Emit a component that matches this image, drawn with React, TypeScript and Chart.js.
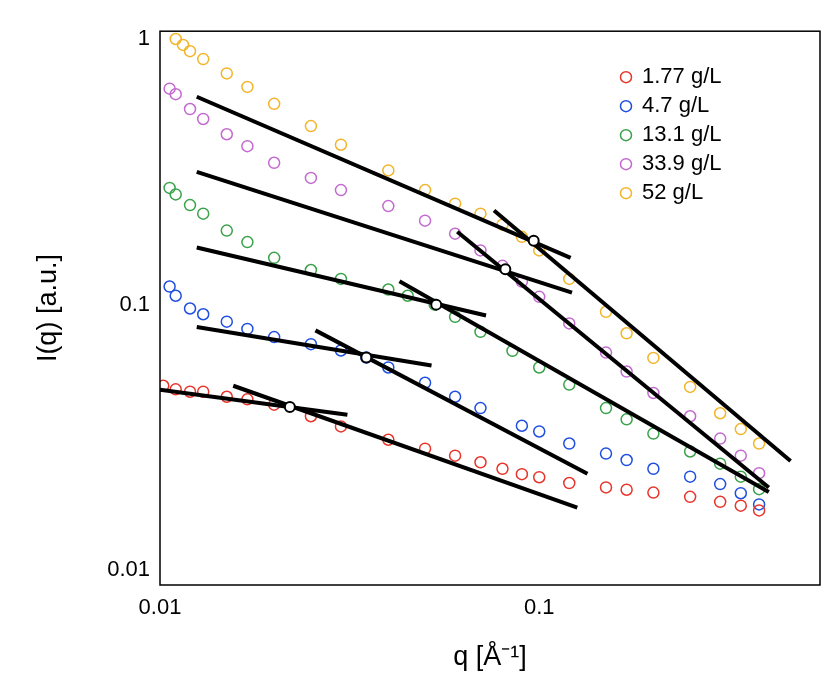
import React, { useEffect, useRef } from "react";
import { Chart, registerables } from "chart.js";
Chart.register(...registerables);

const labels = ["1.77 g/L", "4.7 g/L", "13.1 g/L", "33.9 g/L", "52 g/L"];
const colors = ["#e8342a", "#1f4fe0", "#3aa24a", "#c36ad0", "#f2b52a"];

const qRed = [0.0102, 0.011, 0.012, 0.013, 0.015, 0.017, 0.02, 0.025, 0.03, 0.04, 0.05, 0.06, 0.07, 0.08, 0.09, 0.1, 0.12, 0.15, 0.17, 0.2, 0.25, 0.3, 0.34, 0.38];
const iRed = [0.0495, 0.048, 0.047, 0.047, 0.045, 0.044, 0.042, 0.038, 0.0348, 0.031, 0.0287, 0.027, 0.0255, 0.0241, 0.023, 0.0224, 0.0213, 0.0205, 0.0201, 0.0196, 0.0189, 0.0181, 0.0175, 0.0168];
const qBlue = [0.0106, 0.011, 0.012, 0.013, 0.015, 0.017, 0.02, 0.025, 0.03, 0.035, 0.04, 0.05, 0.06, 0.07, 0.09, 0.1, 0.12, 0.15, 0.17, 0.2, 0.25, 0.3, 0.34, 0.38];
const iBlue = [0.117, 0.108, 0.0967, 0.092, 0.0863, 0.081, 0.0755, 0.071, 0.0672, 0.0632, 0.058, 0.0508, 0.045, 0.0408, 0.035, 0.0333, 0.03, 0.0275, 0.026, 0.0241, 0.0225, 0.0211, 0.0195, 0.0177];
const qGreen = [0.0106, 0.011, 0.012, 0.013, 0.015, 0.017, 0.02, 0.025, 0.03, 0.04, 0.045, 0.053, 0.06, 0.07, 0.085, 0.1, 0.12, 0.15, 0.17, 0.2, 0.25, 0.3, 0.34, 0.38];
const iGreen = [0.275, 0.26, 0.237, 0.22, 0.19, 0.172, 0.15, 0.135, 0.125, 0.114, 0.108, 0.1, 0.09, 0.079, 0.067, 0.058, 0.05, 0.0408, 0.037, 0.0327, 0.028, 0.0252, 0.0225, 0.0202];
const qPurple = [0.0106, 0.011, 0.012, 0.013, 0.015, 0.017, 0.02, 0.025, 0.03, 0.04, 0.05, 0.06, 0.07, 0.08, 0.09, 0.1, 0.12, 0.15, 0.17, 0.2, 0.25, 0.3, 0.34, 0.38];
const iPurple = [0.65, 0.62, 0.545, 0.5, 0.438, 0.395, 0.342, 0.3, 0.27, 0.235, 0.207, 0.185, 0.16, 0.14, 0.122, 0.107, 0.085, 0.066, 0.056, 0.0465, 0.038, 0.0313, 0.027, 0.0232];
const qYellow = [0.011, 0.0115, 0.012, 0.013, 0.015, 0.017, 0.02, 0.025, 0.03, 0.04, 0.05, 0.06, 0.07, 0.08, 0.09, 0.1, 0.12, 0.15, 0.17, 0.2, 0.25, 0.3, 0.34, 0.38];
const iYellow = [1.0, 0.95, 0.9, 0.84, 0.742, 0.66, 0.57, 0.47, 0.4, 0.32, 0.27, 0.24, 0.22, 0.2, 0.18, 0.16, 0.125, 0.094, 0.078, 0.063, 0.049, 0.039, 0.034, 0.03];

// fit lines: [q1, I1, q2, I2]
const fitLines = [
  [0.01, 0.0478, 0.0312, 0.0385], [0.0156, 0.0495, 0.126, 0.0172],
  [0.0125, 0.0824, 0.052, 0.059], [0.0257, 0.08, 0.134, 0.0231],
  [0.0125, 0.164, 0.0724, 0.091], [0.0428, 0.1225, 0.403, 0.0197],
  [0.0125, 0.316, 0.122, 0.111], [0.0608, 0.188, 0.403, 0.0205],
  [0.0125, 0.606, 0.121, 0.15], [0.076, 0.226, 0.46, 0.0258],
];
const crossQ = [0.022, 0.035, 0.0535, 0.0814, 0.0967];
const crossI = [0.0412, 0.0632, 0.1, 0.136, 0.174];

const qs = [qRed, qBlue, qGreen, qPurple, qYellow];
const is = [iRed, iBlue, iGreen, iPurple, iYellow];

export default function App() {
  const ref = useRef<HTMLCanvasElement>(null);
  useEffect(() => {
    const datasets: any[] = [];
    qs.forEach((q, k) => {
      datasets.push({
        type: "line", label: labels[k], data: q.map((x, j) => ({ x, y: is[k][j] })),
        borderColor: colors[k], backgroundColor: "rgba(0,0,0,0)", showLine: false,
        pointRadius: 5.5, pointBorderWidth: 1.5, order: 3,
      });
    });
    fitLines.forEach((l) => {
      datasets.push({
        type: "line", label: "", data: [{ x: l[0], y: l[1] }, { x: l[2], y: l[3] }],
        borderColor: "#000", borderWidth: 4, pointRadius: 0, order: 2,
      });
    });
    datasets.push({
      type: "line", label: "", data: crossQ.map((x, j) => ({ x, y: crossI[j] })), showLine: false,
      pointRadius: 5, pointBackgroundColor: "#fff", pointBorderColor: "#000", pointBorderWidth: 2, order: 1,
    });
    const legendPlugin = {
      id: "lg",
      afterDraw(c: any) {
        const ctx = c.ctx; const a = c.chartArea;
        ctx.save();
        ctx.font = "22px 'Liberation Sans', Arial";
        ctx.textBaseline = "middle";
        labels.forEach((t, k) => {
          const y = a.top + 46 + k * 29;
          ctx.beginPath(); ctx.arc(a.right - 194, y, 5.5, 0, Math.PI * 2);
          ctx.strokeStyle = colors[k]; ctx.lineWidth = 1.5; ctx.stroke();
          ctx.fillStyle = "#000"; ctx.fillText(t, a.right - 178, y);
        });
        ctx.strokeStyle = "#000"; ctx.lineWidth = 1.5;
        ctx.strokeRect(a.left, a.top, a.right - a.left, a.bottom - a.top);
        ctx.restore();
      },
    };
    const tickFont = { family: "'Liberation Sans', Arial", size: 22 };
    const titleFont = { family: "'Liberation Sans', Arial", size: 27 };
    const chart = new Chart(ref.current!, {
      type: "line",
      data: { datasets },
      plugins: [legendPlugin],
      options: {
        animation: false, responsive: false,
        layout: { padding: { top: 22, right: 12, left: 20, bottom: 0 } },
        plugins: { legend: { display: false }, tooltip: { enabled: false } },
        scales: {
          x: {
            type: "logarithmic", min: 0.01, max: 0.55,
            grid: { display: false, drawTicks: false }, border: { display: false },
            ticks: {
              color: "#000", font: tickFont, padding: 10, autoSkip: false, maxRotation: 0,
              callback: (v: any) => (v === 0.01 ? "0.01" : v === 0.1 ? "0.1" : ""),
            },
            title: { display: true, text: "q [Å⁻¹]", color: "#000", font: titleFont },
            afterFit: (s: any) => { s.height = 93; },
          },
          y: {
            type: "logarithmic", min: 0.0088, max: 1.07,
            grid: { display: false, drawTicks: false }, border: { display: false },
            ticks: {
              color: "#000", font: tickFont, padding: 10, autoSkip: false,
              callback: (v: any) => (v === 0.01 ? "0.01" : v === 0.1 ? "0.1" : v === 1 ? "1" : ""),
            },
            title: { display: true, text: "I(q) [a.u.]", color: "#000", font: titleFont },
            afterFit: (s: any) => { s.width = 132; },
          },
        },
      } as any,
    });
    return () => chart.destroy();
  }, []);
  return <canvas ref={ref} width={824} height={670} />;
}
